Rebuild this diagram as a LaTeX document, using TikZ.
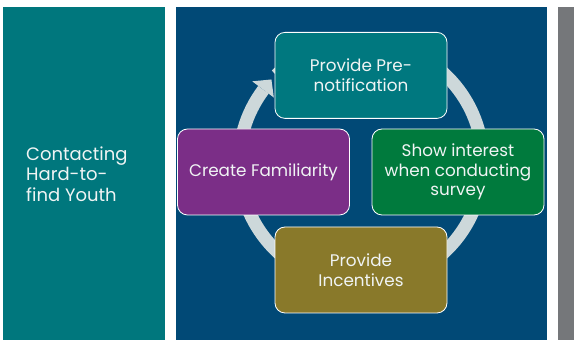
\documentclass[tikz,border=0pt]{standalone}
\usepackage{fontspec}
\setmainfont{Poppins}
\usetikzlibrary{calc}
\definecolor{panelteal}{RGB}{0,119,125}
\definecolor{navy}{RGB}{1,73,118}
\definecolor{sidegray}{RGB}{117,119,122}
\definecolor{boxteal}{RGB}{0,120,127}
\definecolor{boxgreen}{RGB}{0,122,61}
\definecolor{boxolive}{RGB}{137,121,42}
\definecolor{boxpurple}{RGB}{123,46,135}
\definecolor{ringcol}{RGB}{205,216,218}
\definecolor{txt}{RGB}{240,244,244}
\tikzset{
  cyclebox/.style={draw=white, line width=0.8pt, rounded corners=10pt,
    minimum width=172pt, minimum height=86pt, inner sep=2pt, align=center,
    text=txt, font=\fontsize{16.8}{19.5}\selectfont},
  ring/.style={draw=ringcol, line width=13pt}
}
\begin{document}
\begin{tikzpicture}[x=1pt,y=1pt]
\useasboundingbox (0,0) rectangle (574,340);
\fill[white] (0,0) rectangle (574,340);
% panels
\fill[panelteal] (3,0) rectangle (165,333);
\fill[navy] (176,0) rectangle (547,333);
\fill[sidegray] (558,0) rectangle (574,333);
\node[anchor=west, align=left, text=txt, font=\fontsize{18}{20.5}\selectfont, inner sep=0pt]
  (title) at (26,166) {Contacting\\Hard-to-\\find Youth};
% ring
\coordinate (c) at (361,177);
\draw[ring] (c) ++(134:122) arc[start angle=134, end angle=-216.9, radius=122];
\coordinate (b1) at ($(c)+(143.1:136)$);
\coordinate (tip) at ($(c)+(137.0:122.5)$);
\coordinate (b2) at ($(c)+(143.1:109)$);
\fill[ringcol] (b1) -- (tip) -- (b2) -- cycle;
% boxes
\node[cyclebox, fill=boxteal] (pre) at (361,264.6) {Provide Pre-\\notification};
\node[cyclebox, fill=boxgreen] (show) at (458,168) {Show interest\\when conducting\\survey};
\node[cyclebox, fill=boxolive] (inc) at (361,70) {Provide\\Incentives};
\node[cyclebox, fill=boxpurple] (fam) at (263.5,168) {Create Familiarity};
\end{tikzpicture}
\end{document}
